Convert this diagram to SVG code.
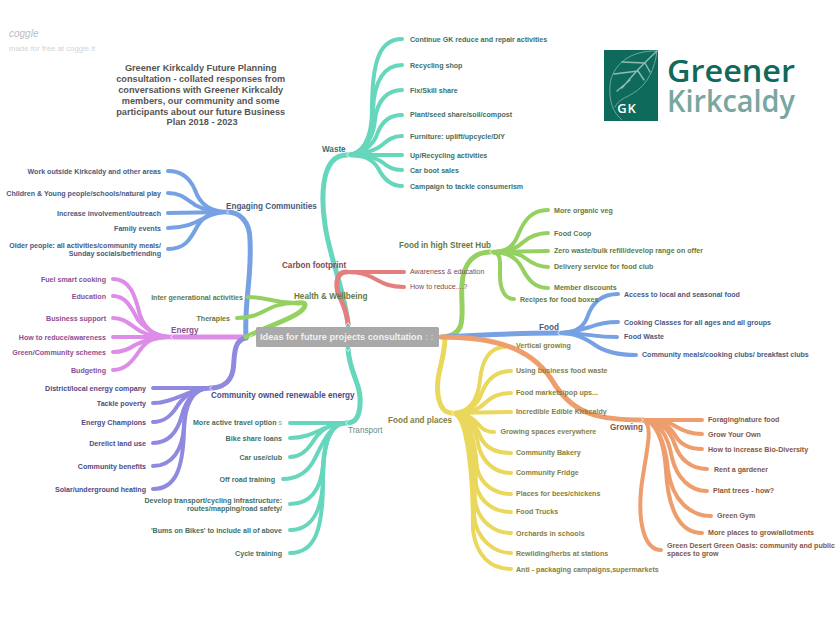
<svg xmlns="http://www.w3.org/2000/svg" width="840" height="620" viewBox="0 0 840 620">
<style>
text{font-family:"Liberation Sans",Arial,sans-serif;font-size:7.1px;font-weight:700}
.e{text-anchor:end}
.h{font-size:8.15px}
.n{font-weight:400}
path{fill:none;stroke-linecap:round}
.m{stroke-width:5}
.l{stroke-width:4}
.teal path{stroke:#66d6bd}.blue path{stroke:#76a1e3}.pink path{stroke:#dd8ce8}.purp path{stroke:#8f89e0}.green path{stroke:#95d160}.red path{stroke:#e57f7f}.yel path{stroke:#e9d85c}.ora path{stroke:#ee9d6c}
.joint path{stroke:#fff;stroke-width:.8;stroke-opacity:.85}
.tteal{fill:#3f6f66}.tblue{fill:#4a5a80}.tpink{fill:#8a4f94}.tpurp{fill:#4e4a85}.tgreen{fill:#5f7a45}.tred{fill:#7c4a50}.tyel{fill:#85803f}.tora{fill:#85563f}
</style>
<rect width="840" height="620" fill="#fff"/>
<g id="connectors">
<g class="teal">
<path class="m" d="M348,325C345,290 330,260 325,225C322,205 318,155 347,155"/>
<path class="l" d="M347,155C362,155 372,140 372,110C372,60 380,39 402,39"/>
<path class="l" d="M347,155C362,155 372,140 373,110C374,80 385,65 402,65"/>
<path class="l" d="M347,155C362,155 373,140 375,120C377,100 388,90 402,90"/>
<path class="l" d="M347,155C362,155 374,145 378,132C382,122 390,115 402,115"/>
<path class="l" d="M347,155C362,155 376,150 382,145C388,140 393,136 402,136"/>
<path class="l" d="M347,155H402"/>
<path class="l" d="M347,155C365,155 375,157 382,162C388,167 393,170 402,170"/>
<path class="l" d="M347,155C362,155 372,158 378,168C384,180 392,186 402,186"/>
</g>
<g class="teal">
<path class="m" d="M348,349C350,375 362,385 360,405C359,418 355,423 346,423"/>
<path class="l" d="M346,423H290"/>
<path class="l" d="M346,423C325,423 315,438 290,438"/>
<path class="l" d="M346,423C330,423 320,430 312,443C306,452 298,457 290,457"/>
<path class="l" d="M346,423C330,423 322,445 313,462C305,475 295,479 283,479"/>
<path class="l" d="M346,423C330,423 324,445 323,465C321,490 310,504 290,504"/>
<path class="l" d="M346,423C330,423 323,445 323,480C322,510 312,530 290,530"/>
<path class="l" d="M346,423C330,423 323,445 323,480C323,530 315,553 290,553"/>
</g>
<g class="blue">
<path class="m" d="M246,337C244,300 252,280 250,240C250,222 240,212 227,212"/>
<path class="l" d="M227,212C212,212 200,205 195,190C190,178 182,171 168,171"/>
<path class="l" d="M227,212C212,212 205,210 195,205C185,198 180,193 168,193"/>
<path class="l" d="M227,212L168,213"/>
<path class="l" d="M227,212C205,212 198,228 168,228"/>
<path class="l" d="M227,212C212,212 205,215 198,225C190,240 185,249 168,249"/>
</g>
<g class="pink">
<path class="m" d="M246,337H171"/>
<path class="l" d="M171,337C155,337 145,330 140,315C135,295 130,279 113,279"/>
<path class="l" d="M171,337C155,337 145,328 138,320C130,305 125,296 113,296"/>
<path class="l" d="M171,337C155,337 148,335 140,331C130,325 125,318 113,318"/>
<path class="l" d="M171,337H113"/>
<path class="l" d="M171,337C155,337 145,340 135,345C128,350 122,352 113,352"/>
<path class="l" d="M171,337C155,337 147,340 140,350C132,362 125,370 113,370"/>
</g>
<g class="purp">
<path class="m" d="M246,338C232,340 235,360 233,370C231,382 222,388 210,388"/>
<path class="l" d="M210,388H153"/>
<path class="l" d="M210,388C190,388 175,403 153,403"/>
<path class="l" d="M210,388C195,388 185,395 178,405C172,415 165,422 153,422"/>
<path class="l" d="M210,388C195,388 186,400 182,415C178,430 170,443 153,443"/>
<path class="l" d="M210,388C195,388 185,400 184,425C183,450 172,466 153,466"/>
<path class="l" d="M210,388C195,388 185,400 184,430C183,470 175,489 153,489"/>
</g>
<g class="green">
<path class="m" d="M246,337C270,325 305,315 305,305C305,302 300,303 296,303"/>
<path class="l" d="M296,303C270,303 270,297 248,297"/>
<path class="l" d="M296,303C265,303 265,318 237,318"/>
</g>
<g class="red">
<path class="m" d="M348,323C345,300 335,295 337,282C338,274 342,272 346,272"/>
<path class="l" d="M346,272H404"/>
<path class="l" d="M346,272C378,272 375,287 404,287"/>
</g>
<g class="green">
<path class="m" d="M443,337C470,335 460,310 462,285C463,262 475,252 490,252"/>
<path class="l" d="M490,252C505,252 513,248 518,235C524,220 532,210 548,210"/>
<path class="l" d="M490,252C505,252 515,250 522,243C530,236 538,233 548,233"/>
<path class="l" d="M490,252L548,251"/>
<path class="l" d="M490,252C505,252 518,252 525,258C533,264 540,267 548,267"/>
<path class="l" d="M490,252C505,252 515,255 522,268C528,280 535,288 548,288"/>
<path class="l" d="M490,252C502,252 500,260 500,275C500,290 505,299 514,299"/>
</g>
<g class="blue">
<path class="m" d="M443,337C490,335 510,333 558,333"/>
<path class="l" d="M558,333C572,333 582,330 587,318C592,302 602,294 618,294"/>
<path class="l" d="M558,333C570,333 580,330 590,327C600,323 608,322 618,322"/>
<path class="l" d="M558,333C590,333 590,337 617,337"/>
<path class="l" d="M558,333C575,333 585,338 595,345C605,352 620,355 636,355"/>
</g>
<g class="yel">
<path class="m" d="M445,337C445,360 435,375 438,395C440,408 445,413 452,413"/>
<path class="l" d="M452,413C470,413 478,400 480,380C482,360 490,347 505,347"/>
<path class="l" d="M452,413C468,413 478,405 482,392C487,380 495,371 511,371"/>
<path class="l" d="M452,413C470,413 478,410 485,403C492,396 500,393 511,393"/>
<path class="l" d="M452,413L511,412"/>
<path class="l" d="M452,413C468,413 475,420 480,426C484,431 488,432 494,432"/>
<path class="l" d="M452,413C468,413 476,425 481,438C486,448 495,453 511,453"/>
<path class="l" d="M452,413C468,413 476,430 479,448C484,463 495,473 511,473"/>
<path class="l" d="M452,413C468,413 475,440 477,468C481,485 495,494 511,494"/>
<path class="l" d="M452,413C468,413 475,450 476,485C480,503 495,512 511,512"/>
<path class="l" d="M452,413C468,413 474,460 475,500C478,522 495,533 511,533"/>
<path class="l" d="M452,413C468,413 474,470 474,515C476,540 495,553 511,553"/>
<path class="l" d="M452,413C468,413 473,480 473,530C476,555 490,569 511,569"/>
</g>
<g class="ora">
<path class="m" d="M441,337C500,337 535,350 555,385C575,415 600,420 643,420"/>
<path class="l" d="M643,420H702"/>
<path class="l" d="M643,420C660,420 668,421 675,426C683,431 690,434 702,434"/>
<path class="l" d="M643,420C660,420 668,424 675,435C680,444 690,449 702,449"/>
<path class="l" d="M643,420C660,420 670,430 675,445C680,460 692,469 707,469"/>
<path class="l" d="M643,420C658,420 668,435 672,458C677,478 690,491 707,491"/>
<path class="l" d="M643,420C655,420 665,440 668,470C672,500 690,516 711,516"/>
<path class="l" d="M643,420C655,420 664,440 666,470C668,510 680,533 702,533"/>
<path class="l" d="M643,420C655,425 645,455 641,490C638,525 645,550 661,550"/>
</g>
<g class="joint">
<path d="M229,210l-2.500,2l2.500,2"/><path d="M173,335l-2.500,2l2.500,2"/><path d="M212,386l-2.500,2l2.500,2"/><path d="M348,421l-2.500,2l2.500,2"/>
<path d="M349,153l-2.500,2l2.500,2"/><path d="M492,250l-2.500,2l2.500,2"/><path d="M560,331l-2.500,2l2.500,2"/><path d="M454,411l-2.500,2l2.500,2"/>
<path d="M641,418l2.500,2l-2.500,2"/><path d="M346,325l2,-2.500l2,2.500"/><path d="M346,349l2,2.500l2,-2.500"/><path d="M252,335l-2.500,2l2.500,2"/>
</g>
</g>
<g id="title"><text text-anchor="middle" style="font-size:9.2px;fill:#555">
<tspan x="202" y="71">Greener Kirkcaldy Future Planning</tspan>
<tspan x="202" y="82">consultation - collated responses from</tspan>
<tspan x="202" y="93">conversations with Greener Kirkcaldy</tspan>
<tspan x="202" y="104">members, our community and some</tspan>
<tspan x="202" y="115">participants about our future Business</tspan>
<tspan x="202" y="125">Plan 2018 - 2023</tspan></text></g>
<g id="watermark">
<text x="9" y="37" style="font-size:10px;font-weight:400;font-style:italic;fill:#bdbdbd">coggle</text>
<text x="9" y="51" style="font-size:7.8px;font-weight:400;fill:#d4d4d4">made for free at coggle.it</text>
</g>
<g id="logo">
<rect x="604" y="50" width="54" height="71" fill="#0e6b5c"/>
<path d="M657,51C630,50 612,65 610,85C609,100 612,112 622,120M657,51C655,68 648,85 632,94C625,98 618,100 615,107" stroke="#6fa69c" stroke-width="1" />
<path d="M657,51C645,62 635,72 622,88M645,63L622,62M638,71L614,74M630,80L617,91M645,63L650,72M638,71L644,80" stroke="#8fbcb3" stroke-width="1.4"/>
<text x="627" y="113" text-anchor="middle" style="font-family:'Open Sans',sans-serif;font-size:13px;font-weight:600;fill:#fff;letter-spacing:1px">GK</text>
<text x="667" y="82" textLength="128" lengthAdjust="spacingAndGlyphs" style="font-family:'Open Sans',sans-serif;font-size:31px;font-weight:600;fill:#10695b">Greener</text>
<text x="667" y="112" textLength="128" lengthAdjust="spacingAndGlyphs" style="font-family:'Open Sans',sans-serif;font-size:30px;font-weight:600;fill:#78a6a0">Kirkcaldy</text>
</g>
<g id="center"><rect x="256" y="327" width="183" height="20" rx="1.5" fill="#a9a9a9"/>
<text x="260" y="340" style="font-size:9.200px;fill:#f0f0f0">Ideas for future projects consultation<tspan fill="#c9c9c9"> : :</tspan></text></g>
<g id="waste" class="tteal">
<text x="322" y="152" class="h">Waste</text>
<text x="410" y="42">Continue GK reduce and repair activities</text>
<text x="410" y="67.500">Recycling shop</text>
<text x="410" y="92.500">Fix/Skill share</text>
<text x="410" y="117">Plant/seed share/soil/compost</text>
<text x="410" y="138.500">Furniture: uplift/upcycle/DIY</text>
<text x="410" y="157.500">Up/Recycling activities</text>
<text x="410" y="173">Car boot sales</text>
<text x="410" y="189">Campaign to tackle consumerism</text>
</g>
<g id="engaging" class="tblue">
<text x="226" y="209" class="h">Engaging Communities</text>
<text x="161" y="174" class="e">Work outside Kirkcaldy and other areas</text>
<text x="161" y="196" class="e">Children &amp; Young people/schools/natural play</text>
<text x="161" y="216" class="e">Increase involvement/outreach</text>
<text x="161" y="231" class="e">Family events</text>
<text x="161" y="248" class="e">Older people: all activities/community meals/</text>
<text x="161" y="256" class="e">Sunday socials/befriending</text>
</g>
<g id="energy" class="tpink">
<text x="171" y="333" class="h">Energy</text>
<text x="106" y="281.500" class="e">Fuel smart cooking</text>
<text x="106" y="298.500" class="e">Education</text>
<text x="106" y="320.500" class="e">Business support</text>
<text x="106" y="339.500" class="e">How to reduce/awareness</text>
<text x="106" y="354.500" class="e">Green/Community schemes</text>
<text x="106" y="372.500" class="e">Budgeting</text>
</g>
<g id="health" class="tgreen">
<text x="294" y="299" class="h">Health &amp; Wellbeing</text>
<text x="243" y="300" class="e">Inter generational activities</text>
<text x="230" y="320.500" class="e">Therapies</text>
</g>
<g id="community" class="tpurp">
<text x="211" y="398" class="h">Community owned renewable energy</text>
<text x="146" y="390.500" class="e">District/local energy company</text>
<text x="146" y="405.500" class="e">Tackle poverty</text>
<text x="146" y="424.500" class="e">Energy Champions</text>
<text x="146" y="445.500" class="e">Derelict land use</text>
<text x="146" y="468.500" class="e">Community benefits</text>
<text x="146" y="491.500" class="e">Solar/underground heating</text>
</g>
<g id="transport" class="tteal">
<text x="348" y="433" class="h n" style="fill:#6a8a86">Transport</text>
<text x="282" y="425" class="e">More active travel option<tspan class="n" fill="#8a9a98"> s</tspan></text>
<text x="282" y="440.500" class="e">Bike share loans</text>
<text x="282" y="459.500" class="e">Car use/club</text>
<text x="275" y="481.500" class="e">Off road training</text>
<text x="282" y="503" class="e">Develop transport/cycling infrastructure:</text>
<text x="282" y="511" class="e">routes/mapping/road safety/</text>
<text x="282" y="532.500" class="e">'Bums on Bikes' to include all of above</text>
<text x="282" y="556" class="e">Cycle training</text>
</g>
<g id="carbon" class="tred">
<text x="282" y="268" class="h">Carbon footprint</text>
<text x="410" y="274" class="n">Awareness &amp; education</text>
<text x="410" y="289" class="n">How to reduce....?</text>
</g>
<g id="hub" class="tgreen">
<text x="399" y="248" class="h">Food in high Street Hub</text>
<text x="554" y="213">More organic veg</text>
<text x="554" y="235.500">Food Coop</text>
<text x="554" y="253">Zero waste/bulk refill/develop range on offer</text>
<text x="554" y="269">Delivery service for food club</text>
<text x="554" y="290">Member discounts</text>
<text x="520" y="301.500">Recipes for food boxes</text>
</g>
<g id="food" class="tblue">
<text x="539" y="329.500" class="h">Food</text>
<text x="624" y="297">Access to local and seasonal food</text>
<text x="624" y="325">Cooking Classes for all ages and all groups</text>
<text x="624" y="339">Food Waste</text>
<text x="642" y="357">Community meals/cooking clubs/ breakfast clubs</text>
</g>
<g id="places" class="tyel">
<text x="388" y="423" class="h">Food and places</text>
<text x="516" y="348">Vertical growing</text>
<text x="516" y="372.500">Using business food waste</text>
<text x="516" y="395">Food markets/pop ups...</text>
<text x="516" y="414">Incredible Edible Kirkcaldy</text>
<text x="500.500" y="434">Growing spaces everywhere</text>
<text x="516" y="455">Community Bakery</text>
<text x="516" y="475">Community Fridge</text>
<text x="516" y="496">Places for bees/chickens</text>
<text x="516" y="514">Food Trucks</text>
<text x="516" y="535.500">Orchards in schools</text>
<text x="516" y="555.500">Rewilding/herbs at stations</text>
<text x="516" y="571.500">Anti - packaging campaigns,supermarkets</text>
</g>
<g id="growing" class="tora">
<text x="610" y="430" class="h">Growing</text>
<text x="708" y="422">Foraging/nature food</text>
<text x="708" y="437">Grow Your Own</text>
<text x="708" y="451.500">How to increase Bio-Diversity</text>
<text x="714" y="471.500">Rent a gardener</text>
<text x="713" y="493">Plant trees - how?</text>
<text x="717" y="518">Green Gym</text>
<text x="708" y="535">More places to grow/allotments</text>
<text x="667" y="548">Green Desert Green Oasis: community and public</text>
<text x="667" y="556">spaces to grow</text>
</g>
</svg>
